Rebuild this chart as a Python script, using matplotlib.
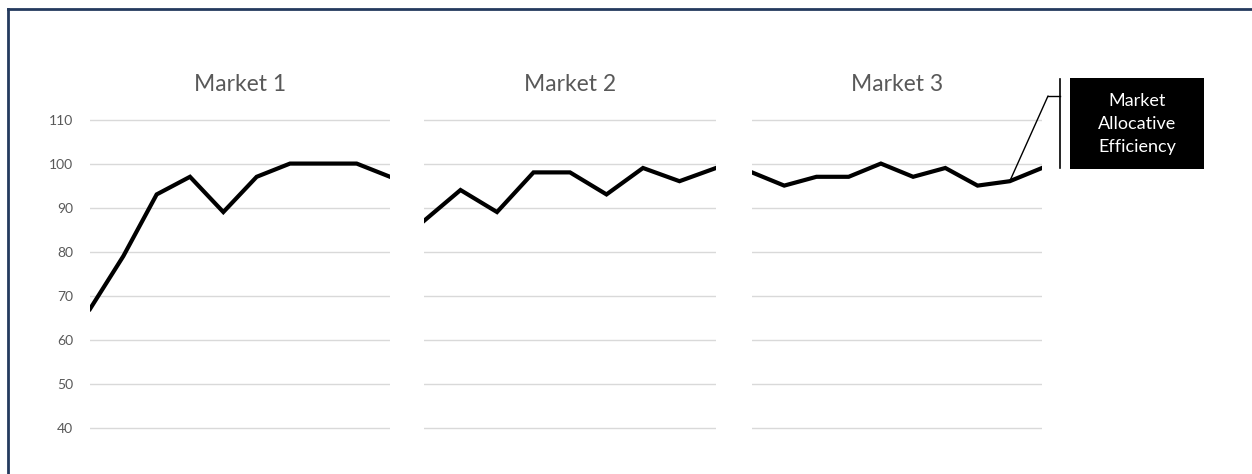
import matplotlib.pyplot as plt
from matplotlib.lines import Line2D
from matplotlib.patches import Rectangle

# Allocative efficiency per period for each market
markt1 = [67, 79, 93, 97, 89, 97, 100, 100, 100, 97]
markt2 = [87, 94, 89, 98, 98, 93, 99, 96, 99]
markt3 = [98, 95, 97, 97, 100, 97, 99, 95, 96, 99]
titel = ['Market 1', 'Market 2', 'Market 3']
y_ticks = [40, 50, 60, 70, 80, 90, 100, 110]

W, H = 1252, 474
fig = plt.figure(figsize=(W / 100, H / 100), dpi=100)
plt.rcParams['font.family'] = ['Lato', 'DejaVu Sans']

grau = '#595959'
unten = 1 - 432.4 / H
hoehe = (432.4 - 115.1) / H
positionen = [(90, 300), (424, 292), (752, 290)]

achsen = []
for i, (werte, name) in enumerate(zip([markt1, markt2, markt3], titel)):
    links, breite = positionen[i]
    ax = fig.add_axes([links / W, unten, breite / W, hoehe])
    x = list(range(len(werte)))
    ax.plot(x, werte, color='black', linewidth=3, solid_joinstyle='miter')
    ax.set_xlim(0, len(werte) - 1)
    ax.set_ylim(39, 111)
    ax.set_yticks(y_ticks)
    for t in y_ticks:
        ax.axhline(t, color='#D9D9D9', linewidth=1, zorder=0)
    ax.set_xticks([])
    for s in ax.spines.values():
        s.set_visible(False)
    ax.tick_params(axis='y', length=0, pad=12, labelsize=10, labelcolor=grau)
    if i > 0:
        ax.set_yticklabels([])
    ax.set_title(name, fontsize=16.5, color=grau, pad=17)
    achsen.append(ax)

# callout box with bracket and leader to the 9th point of market 3
fig.add_artist(Rectangle((1070 / W, 1 - 169 / H), 134 / W, 91 / H,
                         transform=fig.transFigure, facecolor='black', edgecolor='none'))
fig.text(1137 / W, 1 - 124 / H, 'Market\nAllocative\nEfficiency', color='white',
         fontsize=13, ha='center', va='center', linespacing=1.55)
fig.add_artist(Line2D([1060 / W, 1060 / W], [1 - 79 / H, 1 - 168 / H],
                      transform=fig.transFigure, color='black', linewidth=1.2))
fig.add_artist(Line2D([1048 / W, 1060 / W], [1 - 96 / H, 1 - 96 / H],
                      transform=fig.transFigure, color='black', linewidth=1))
achsen[2].annotate('', xy=(8, markt3[8]), xycoords='data',
                   xytext=(1048 / W, 1 - 96 / H), textcoords='figure fraction',
                   arrowprops=dict(arrowstyle='-', color='black', linewidth=1,
                                   shrinkA=0, shrinkB=0))

# frame on top and left
rahmen = '#243A5E'
fig.add_artist(Line2D([8 / W, 1], [1 - 9 / H, 1 - 9 / H], transform=fig.transFigure,
                      color=rahmen, linewidth=2))
fig.add_artist(Line2D([8 / W, 8 / W], [0, 1 - 9 / H], transform=fig.transFigure,
                      color=rahmen, linewidth=2))

fig.savefig('out.png', dpi=100)
